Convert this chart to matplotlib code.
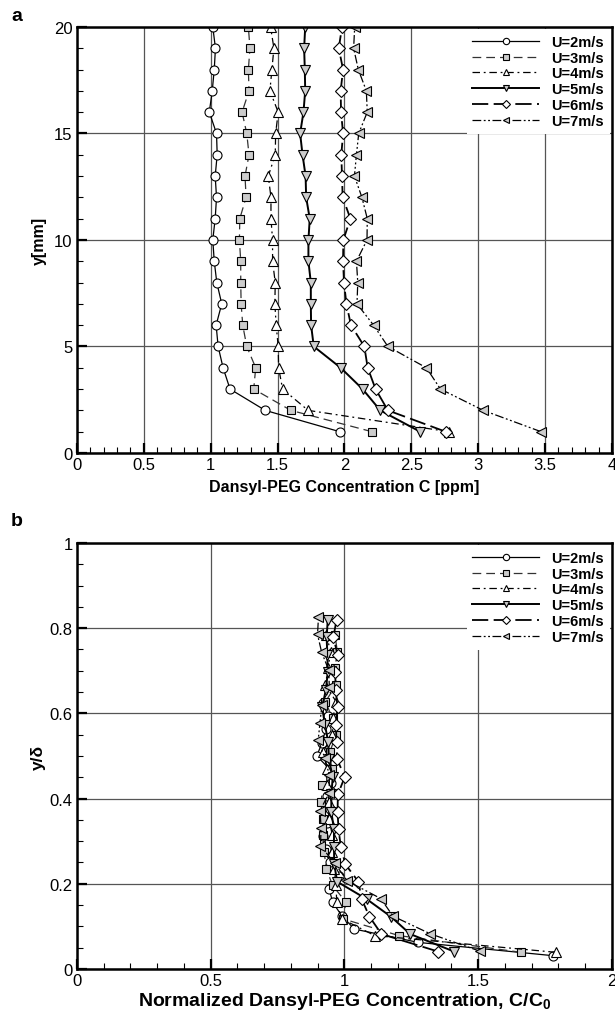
import matplotlib
matplotlib.use("Agg")
import matplotlib.pyplot as plt
from matplotlib.ticker import MultipleLocator

plt.rcParams['font.family'] = ['Liberation Sans', 'DejaVu Sans']
plt.rcParams['mathtext.fontset'] = 'custom'
plt.rcParams['mathtext.rm'] = 'Liberation Sans'
plt.rcParams['mathtext.bf'] = 'Liberation Sans:bold'

# measured profiles, y = 1..20 mm
y_mm = [1, 2, 3, 4, 5, 6, 7, 8, 9, 10, 11, 12, 13, 14, 15, 16, 17, 18, 19, 20]
labels = ['U=2m/s', 'U=3m/s', 'U=4m/s', 'U=5m/s', 'U=6m/s', 'U=7m/s']

c_u2 = [1.965, 1.408, 1.145, 1.093, 1.056, 1.041, 1.083, 1.046, 1.027, 1.016,
        1.034, 1.044, 1.034, 1.049, 1.044, 0.990, 1.012, 1.027, 1.036, 1.016]
c_u3 = [2.206, 1.600, 1.322, 1.337, 1.270, 1.240, 1.228, 1.225, 1.225, 1.215,
        1.218, 1.265, 1.257, 1.287, 1.270, 1.235, 1.287, 1.282, 1.294, 1.282]
c_u4 = [2.780, 1.729, 1.538, 1.508, 1.505, 1.490, 1.480, 1.483, 1.463, 1.463,
        1.451, 1.451, 1.431, 1.483, 1.486, 1.505, 1.443, 1.458, 1.473, 1.448]
c_u5 = [2.566, 2.268, 2.136, 1.972, 1.771, 1.751, 1.749, 1.749, 1.731, 1.731,
        1.741, 1.714, 1.710, 1.687, 1.669, 1.694, 1.707, 1.704, 1.699, 1.707]
c_u6 = [2.757, 2.325, 2.233, 2.174, 2.149, 2.049, 2.015, 1.997, 1.990, 1.992,
        2.045, 1.987, 1.982, 1.977, 1.990, 1.975, 1.972, 1.990, 1.958, 1.982]
c_u7 = [3.470, 3.038, 2.718, 2.613, 2.325, 2.218, 2.094, 2.100, 2.090, 2.169,
        2.171, 2.131, 2.075, 2.090, 2.107, 2.171, 2.164, 2.104, 2.069, 2.077]

# normalisation constants
c0 = [1.104, 1.329, 1.553, 1.820, 2.042, 2.300]
delta_mm = [32.0, 25.5, 25.5, 24.4, 24.4, 24.2]

profiles = [c_u2, c_u3, c_u4, c_u5, c_u6, c_u7]

gray = '#cccccc'
styles = [
    dict(marker='o', mfc='white', ms=6.5, color='black', lw=0.9, ls='-'),
    dict(marker='s', mfc=gray, ms=6, color='#333333', lw=0.9, ls=(0, (7, 4))),
    dict(marker='^', mfc='white', ms=7, color='black', lw=0.9, ls=(0, (6, 3, 1.5, 3))),
    dict(marker='v', mfc=gray, ms=7, color='black', lw=1.4, ls='-'),
    dict(marker='D', mfc='white', ms=6, color='black', lw=1.3, ls=(0, (9, 3))),
    dict(marker='<', mfc=gray, ms=7, color='black', lw=0.9, ls=(0, (7, 2, 1.5, 2, 1.5, 2))),
]

fig = plt.figure(figsize=(6.15, 10.12), dpi=100)
ax1 = fig.add_axes([0.125, 0.5514, 0.87, 0.421])
ax2 = fig.add_axes([0.125, 0.0415, 0.87, 0.421])


def style_axes(ax):
    for sp in ax.spines.values():
        sp.set_linewidth(1.8)
    ax.grid(True, which='major', color='#555555', lw=0.9)
    ax.set_axisbelow(True)
    ax.tick_params(which='both', direction='in', labelsize=12, top=False, right=False)
    ax.tick_params(which='major', length=7, width=1.6, pad=3)
    ax.tick_params(which='minor', length=4, width=0.8)


for c, st, lab in zip(profiles, styles, labels):
    ax1.plot(c, y_mm, mec='black', mew=0.8, label=lab, **st)

ax1.set_xlim(0, 4)
ax1.set_ylim(0, 20)
ax1.set_xticks([0, 0.5, 1, 1.5, 2, 2.5, 3, 3.5, 4])
ax1.set_xticklabels(['0', '0.5', '1', '1.5', '2', '2.5', '3', '3.5', '4'])
ax1.set_yticks([0, 5, 10, 15, 20])
ax1.xaxis.set_minor_locator(MultipleLocator(0.1))
ax1.yaxis.set_minor_locator(MultipleLocator(1))
style_axes(ax1)
ax1.set_xlabel('Dansyl-PEG Concentration C [ppm]', fontsize=11.5, fontweight='bold', labelpad=5)
ax1.set_ylabel('y[mm]', fontsize=11.5, fontweight='bold', labelpad=5)

for c, st, lab, k, d in zip(profiles, styles, labels, c0, delta_mm):
    xn = [v / k for v in c]
    yn = [v / d for v in y_mm]
    ax2.plot(xn, yn, mec='black', mew=0.8, label=lab, **st)

ax2.set_xlim(0, 2)
ax2.set_ylim(0, 1)
ax2.set_xticks([0, 0.5, 1, 1.5, 2])
ax2.set_xticklabels(['0', '0.5', '1', '1.5', '2'])
ax2.set_yticks([0, 0.2, 0.4, 0.6, 0.8, 1])
ax2.set_yticklabels(['0', '0.2', '0.4', '0.6', '0.8', '1'])
ax2.xaxis.set_minor_locator(MultipleLocator(0.1))
ax2.yaxis.set_minor_locator(MultipleLocator(0.05))
style_axes(ax2)
ax2.set_xlabel(r'Normalized Dansyl-PEG Concentration, C/C$_\mathbf{0}$', fontsize=14,
               fontweight='bold', labelpad=1)
ax2.set_ylabel('y/δ', fontsize=12.5, fontweight='bold', labelpad=3)

for ax in (ax1, ax2):
    ax.legend(loc='upper right', frameon=True, fancybox=False,
              edgecolor='none', framealpha=1, handlelength=4.6, markerscale=0.7,
              labelspacing=0.12, borderaxespad=0.15, handletextpad=0.8,
              borderpad=0.4, prop={'weight': 'bold', 'size': 10.5})

fig.text(0.018, 0.984, 'a', fontsize=14, fontweight='bold', va='center')
fig.text(0.018, 0.485, 'b', fontsize=14, fontweight='bold', va='center')

fig.savefig('out.png', dpi=100)
